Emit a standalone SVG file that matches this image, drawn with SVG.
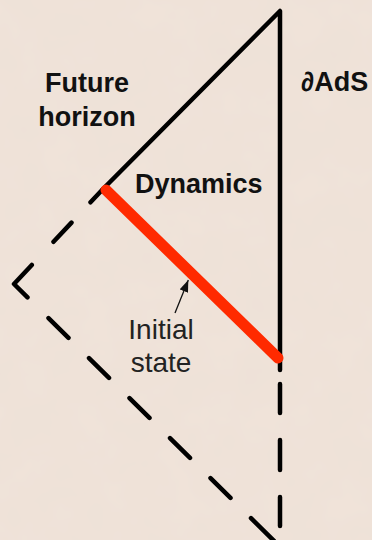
<svg xmlns="http://www.w3.org/2000/svg" width="372" height="540" viewBox="0 0 372 540">
  <defs>
    <filter id="paper" x="0" y="0" width="100%" height="100%">
      <feTurbulence type="fractalNoise" baseFrequency="0.025" numOctaves="3" seed="7" result="n"/>
      <feColorMatrix in="n" type="matrix" values="0 0 0 0 0.80  0 0 0 0 0.72  0 0 0 0 0.66  0 0 0 0.35 -0.05"/>
    </filter>
    <marker id="arrowhead" markerUnits="userSpaceOnUse" markerWidth="13" markerHeight="10" refX="12" refY="4.5" orient="auto">
      <path d="M0,0 L12,4.5 L0,9 Z" fill="#111"/>
    </marker>
    <style>
      .solid { fill: none; stroke: #000; stroke-width: 4.5; stroke-linecap: round; stroke-linejoin: round; }
      .dash { fill: none; stroke: #000; stroke-width: 4.5; stroke-linecap: round; stroke-linejoin: round; }
      .state { fill: none; stroke: #ff2a00; stroke-width: 11; stroke-linecap: round; }
      .pointer { fill: none; stroke: #111; stroke-width: 1.3; }
      .bold { font-family: "Liberation Sans", Arial, sans-serif; font-weight: bold; font-size: 27px; fill: #111; }
      .light { font-family: "Liberation Sans", Arial, sans-serif; font-weight: normal; font-size: 28px; fill: #222; }
    </style>
  </defs>

  <g id="background">
    <rect x="0" y="0" width="372" height="540" fill="#f0e3d9"/>
    <rect x="0" y="0" width="372" height="540" filter="url(#paper)"/>
  </g>

  <g id="connectors">
    <path id="horizon-solid" class="solid" d="M103,189 L280,11 L280,370"/>
    <path id="horizon-dashed" class="dash" d="M90.5,202.3 L103,189 M53.5,241.8 L71.5,222.6 M31.8,265 L14,284 L27.5,297.3"/>
    <path id="past-dashed" class="dash" d="M48.5,318.1 L68.5,337.8 M89,358.1 L109,377.9 M129.5,398.1 L149.5,417.9 M170,438.1 L190,457.9 M210.5,478.1 L230.5,497.9 M251,518.2 L274,540.9"/>
    <path id="boundary-dashed" class="dash" d="M280,384 L280,413 M280,440 L280,470 M280,497 L280,526"/>
    <path id="initial-state" class="state" d="M106,190 L278,358"/>
    <path id="initial-pointer" class="pointer" d="M175,313 L188.3,280" marker-end="url(#arrowhead)"/>
  </g>

  <g id="label-future-horizon">
    <text class="bold" x="87" y="92" text-anchor="middle">Future</text>
    <text class="bold" x="87" y="126" text-anchor="middle">horizon</text>
  </g>
  <g id="label-boundary">
    <text class="bold" x="301" y="91">∂AdS</text>
  </g>
  <g id="label-dynamics">
    <text class="bold" x="135" y="193">Dynamics</text>
  </g>
  <g id="label-initial-state">
    <text class="light" x="161" y="339" text-anchor="middle">Initial</text>
    <text class="light" x="161" y="372" text-anchor="middle">state</text>
  </g>
</svg>
